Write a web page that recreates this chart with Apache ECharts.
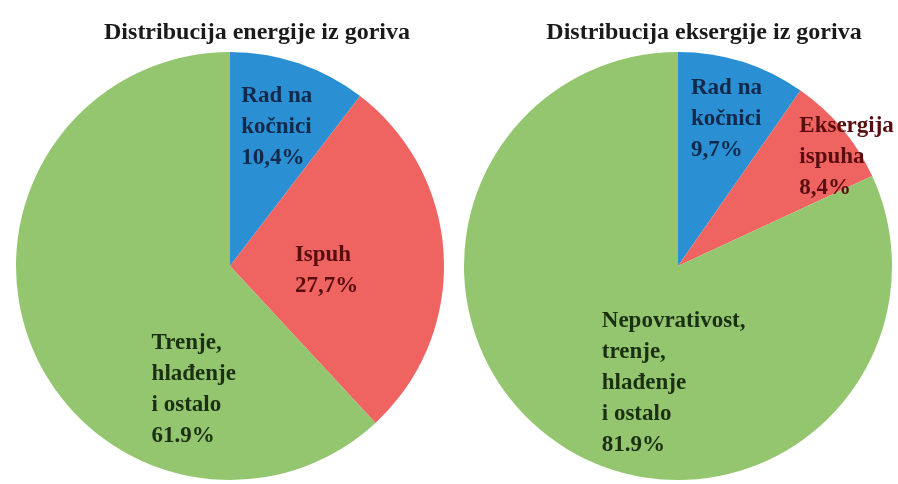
<!DOCTYPE html>
<html lang="hr">
<head>
    <meta charset="UTF-8">
    <title>distribucija_energije_eksergije</title>
    <script src="https://cdn.jsdelivr.net/npm/echarts@6/dist/echarts.min.js"></script>
    <style>
        html, body { margin: 0; padding: 0; background: #fff; }
    </style>
</head>

<body>
    <div id="mainChart" style="width: 898px; height: 484px;"></div>
    <script>
        // energija
        const energyNames = ['Rad na\nkočnici', 'Ispuh', 'Trenje,\nhlađenje\ni ostalo']
        const energyValues = [10.4, 27.7, 61.9]
        const energyText = ['10,4%', '27,7%', '61.9%']

        // eksergija
        const exergyNames = ['Rad na\nkočnici', 'Eksergija\nispuha', 'Nepovrativost,\ntrenje,\nhlađenje\ni ostalo']
        const exergyValues = [9.7, 8.4, 81.9]
        const exergyText = ['9,7%', '8,4%', '81.9%']

        const colors = ['#2b8fd3', '#ef6460', '#94c56f']
        const textColors = ['#12294a', '#5a0d10', '#1b3012']
        const font = '"Liberation Serif", "DejaVu Serif", serif'

        // širina bloka natpisa i pomak od sredine isječka
        const energyLabelBox = [[90, 21, -35], [80, -5, 10], [100, 74, 83]]
        const exergyLabelBox = [[90, 25, -42], [110, 92, -38], [160, 63, 24]]

        function buildData(names, values, text, boxes) {
            let out = []
            for (let i = 0; i < names.length; i++) {
                // svaki red kao rich token fiksne širine -> lijevo poravnanje
                let lines = (names[i] + '\n' + text[i]).split('\n')
                out.push({
                    name: names[i],
                    value: values[i],
                    itemStyle: { color: colors[i] },
                    label: {
                        formatter: lines.map(s => '{t|' + s + '}').join('\n'),
                        color: textColors[i],
                        offset: [boxes[i][1], boxes[i][2]],
                        rich: {
                            t: {
                                width: boxes[i][0],
                                align: 'left',
                                lineHeight: 31,
                                fontSize: 23,
                                fontFamily: font,
                                fontWeight: 'bold',
                                color: textColors[i]
                            }
                        }
                    }
                })
            }
            return out
        }

        function pie(center, data) {
            return {
                type: 'pie',
                center: center,
                radius: 214,
                startAngle: 90,
                clockwise: true,
                animation: false,
                silent: true,
                avoidLabelOverlap: false,
                labelLayout: { hideOverlap: false },
                label: {
                    show: true,
                    position: 'inside',
                    verticalAlign: 'middle',
                    fontFamily: font,
                    fontWeight: 'bold',
                    fontSize: 23,
                    lineHeight: 31
                },
                labelLine: { show: false },
                emphasis: { disabled: true },
                data: data
            }
        }

        let chartsData = {
            backgroundColor: '#fff',
            title: [
                {
                    text: 'Distribucija energije iz goriva',
                    left: 252, top: 16, textAlign: 'center',
                    textStyle: { fontFamily: font, fontWeight: 'bold', fontSize: 24, color: '#1a1a1a' }
                },
                {
                    text: 'Distribucija eksergije iz goriva',
                    left: 699, top: 16, textAlign: 'center',
                    textStyle: { fontFamily: font, fontWeight: 'bold', fontSize: 24, color: '#1a1a1a' }
                }
            ],
            series: [
                pie([230, 266], buildData(energyNames, energyValues, energyText, energyLabelBox)),
                pie([678, 266], buildData(exergyNames, exergyValues, exergyText, exergyLabelBox))
            ]
        }

        let charts = echarts.init(document.querySelector('#mainChart'))
        charts.setOption(chartsData, true)
    </script>
</body>

</html>
